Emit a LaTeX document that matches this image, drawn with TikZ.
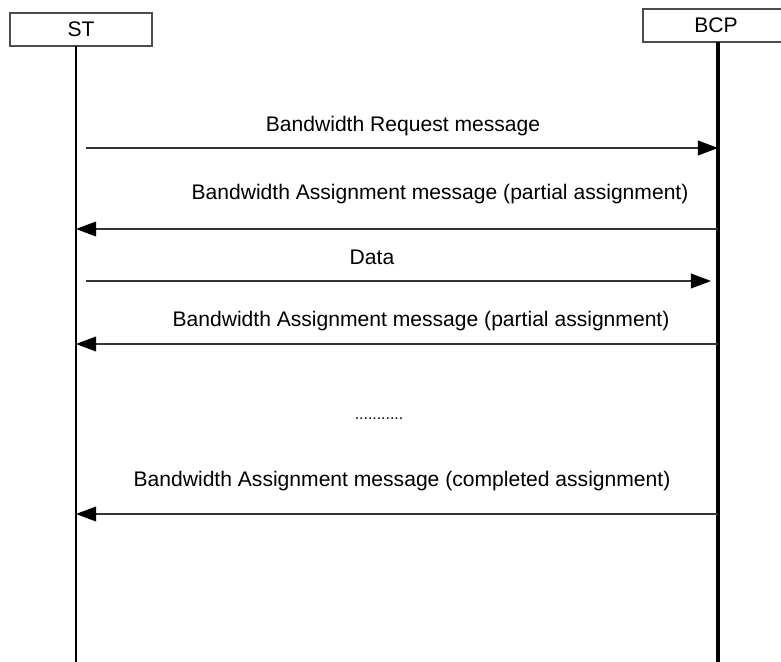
\documentclass[tikz,border=0pt]{standalone}
\usepackage{fontspec}
\setmainfont{Liberation Sans}
\usetikzlibrary{arrows.meta}
\tikzset{
  entity/.style={draw=black!70,line width=0.6pt,minimum height=0.66cm,inner sep=0pt},
  lifeline/.style={line width=1.4pt},
  msg/.style={line width=0.6pt,draw=black!80,-{Triangle[length=11.5pt,width=8.5pt,black]}},
}
\begin{document}
\begin{tikzpicture}[x=0.02cm,y=-0.02cm,font=\fontsize{12}{14}\selectfont]
        \useasboundingbox (0,0) rectangle (781,662);
        %% Entities
        \node[entity,minimum width=2.84cm] (st) at (81,29.5) {ST};
        \node[entity,minimum width=2.92cm] (bcp) at (716,25.5) {BCP};
        %% Lifelines
        \coordinate (st top) at (76,46);
        \coordinate (st bot) at (76,662);
        \coordinate (bcp top) at (718,42);
        \coordinate (bcp bot) at (718,662);
        \draw[lifeline] (st top) -- (st bot);
        \draw[lifeline,line width=1.9pt] (bcp top) -- (bcp bot);
        %% Message ends
        \coordinate (req a) at (86,148);   \coordinate (req b) at (718,148);
        \coordinate (asg1 a) at (718,229); \coordinate (asg1 b) at (76,229);
        \coordinate (data a) at (86,281);  \coordinate (data b) at (711,281);
        \coordinate (asg2 a) at (718,344); \coordinate (asg2 b) at (76,344);
        \coordinate (cmp a) at (718,514);  \coordinate (cmp b) at (76,514);
        %% Messages
        \draw[msg] (req a) -- (req b);
        \draw[msg] (asg1 a) -- (asg1 b);
        \draw[msg] (data a) -- (data b);
        \draw[msg] (asg2 a) -- (asg2 b);
        \draw[msg] (cmp a) -- (cmp b);
        %% Labels
        \node (req lbl) at (403,126) {Bandwidth Request message};
        \node (asg1 lbl) at (440,194) {Bandwidth Assignment message (partial assignment)};
        \node (data lbl) at (372,257) {Data};
        \node (asg2 lbl) at (421,321) {Bandwidth Assignment message (partial assignment)};
        \node[font=\fontsize{9}{11}\selectfont] (dots) at (379,419) {...........};
        \node (cmp lbl) at (402,481) {Bandwidth Assignment message (completed assignment)};
    \end{tikzpicture}
\end{document}
